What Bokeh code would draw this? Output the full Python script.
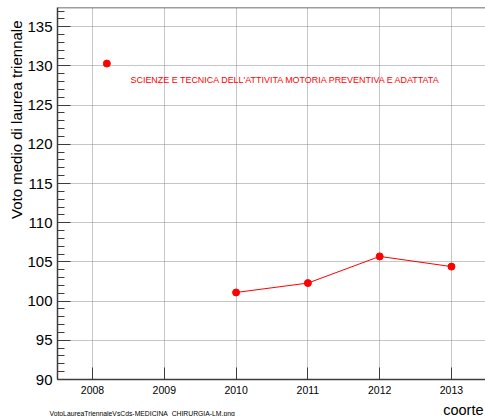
from bokeh.plotting import figure
from bokeh.models import Range1d, SingleIntervalTicker, FixedTicker, Label, Span, Title
from bokeh.embed import file_html
from bokeh.resources import INLINE

# --- data ---
coorti = [2008.2, 2010, 2011, 2012, 2013]
voto_medio = [130.3, 101.1, 102.3, 105.7, 104.4]
anni_tick = [2008, 2009, 2010, 2011, 2012, 2013]
corso = "SCIENZE E TECNICA DELL'ATTIVITA MOTORIA PREVENTIVA E ADATTATA"
titolo_y = "Voto medio di laurea triennale"
titolo_x = "coorte"
nome_file = "VotoLaureaTriennaleVsCds-MEDICINA_CHIRURGIA-LM.png"

X0, X1 = 2007.5125, 2013.474
Y0, Y1 = 90.0, 137.45
FONT = "Liberation Sans"
AX = "#3c3c3c"

p = figure(width=485, height=416,
           x_range=Range1d(X0, X1), y_range=Range1d(Y0, Y1),
           output_backend="svg", toolbar_location=None,
           min_border_left=57, min_border_right=0,
           min_border_top=7, min_border_bottom=37)
p.background_fill_color = "white"
p.border_fill_color = "white"
p.outline_line_color = None

# axes
p.xaxis.ticker = FixedTicker(ticks=anni_tick, minor_ticks=[])
p.yaxis.ticker = SingleIntervalTicker(interval=5, num_minor_ticks=5)
for ax in (p.xaxis[0], p.yaxis[0]):
    ax.axis_line_color = AX
    ax.axis_line_width = 1.5
    ax.major_tick_line_color = AX
    ax.minor_tick_line_color = AX
    ax.major_tick_out = 0
    ax.minor_tick_out = 0
    ax.major_label_text_font = FONT
    ax.major_label_text_color = "black"
p.xaxis.major_tick_in = 12
p.xaxis.minor_tick_in = 0
p.xaxis.major_label_text_font_size = "10.5px"
p.xaxis.major_label_standoff = 6
# invisible spacer label, so the panel titles below sit at the right depth
p.xaxis.axis_label = " "
p.xaxis.axis_label_text_font_size = "1px"
p.xaxis.axis_label_standoff = 3
p.yaxis.major_tick_in = 13
p.yaxis.minor_tick_in = 7
p.yaxis.major_label_text_font_size = "15px"
p.yaxis.major_label_standoff = 5

# grid
p.xgrid.ticker = FixedTicker(ticks=anni_tick)
for g in (p.xgrid[0], p.ygrid[0]):
    g.grid_line_color = "#8c8c8c"
    g.grid_line_dash = "1 1"
    g.grid_line_width = 1

# top frame line
p.add_layout(Span(location=Y1, dimension="width", line_color=AX, line_width=1.5))

# data
p.line(coorti[1:], voto_medio[1:], line_color="red", line_width=1)
p.scatter(coorti, voto_medio, size=7, fill_color="red", line_color="red")

# course name inside the frame
p.add_layout(Label(x=2008.529, y=128.14, text=corso, text_font=FONT,
                   text_font_size="8.95px", text_color="red",
                   text_baseline="middle", text_align="left"))

# axis titles and file name as panel titles
p.add_layout(Title(text=titolo_y, align="right", offset=13, standoff=0,
                   text_font=FONT, text_font_size="15px",
                   text_font_style="normal", text_color="black"), "left")
p.add_layout(Title(text=titolo_x, align="right", offset=2, standoff=-7,
                   vertical_align="bottom",
                   text_font=FONT, text_font_size="14.5px",
                   text_font_style="normal", text_color="black"), "below")
p.add_layout(Title(text=nome_file, align="left", offset=-8, standoff=-9.8,
                   vertical_align="top",
                   text_font=FONT, text_font_size="6.8px",
                   text_font_style="normal", text_color="black"), "below")

open("out.html", "w").write(file_html(p, INLINE))
